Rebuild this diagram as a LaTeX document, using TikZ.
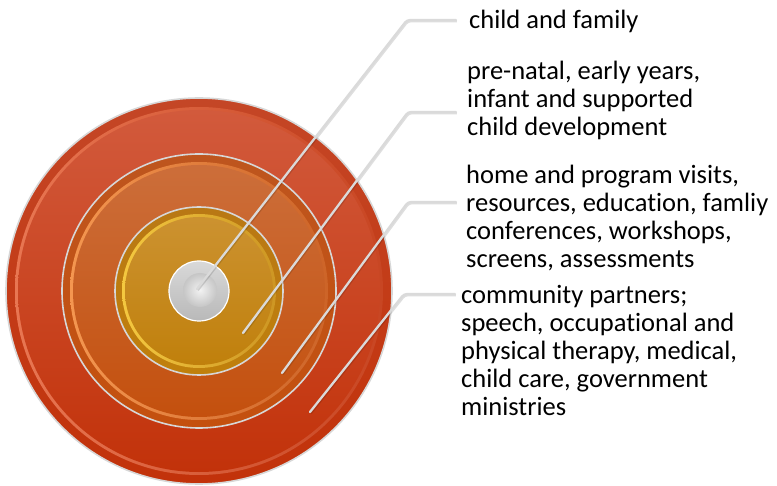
\documentclass[tikz,border=0pt]{standalone}
\usepackage{fontspec}
\setmainfont{Carlito}[Ligatures={NoCommon}]
\definecolor{outA}{RGB}{210,90,60}
\definecolor{outB}{RGB}{194,50,10}
\definecolor{outHL}{RGB}{232,118,82}
\definecolor{outHR}{RGB}{200,70,35}
\definecolor{outDk}{RGB}{196,70,38}
\definecolor{midA}{RGB}{204,110,58}
\definecolor{midB}{RGB}{196,80,14}
\definecolor{midHL}{RGB}{244,150,80}
\definecolor{midHR}{RGB}{205,100,40}
\definecolor{midDk}{RGB}{190,85,30}
\definecolor{inA}{RGB}{204,146,48}
\definecolor{inB}{RGB}{192,128,12}
\definecolor{inHL}{RGB}{244,200,64}
\definecolor{inHR}{RGB}{205,150,35}
\definecolor{inDk}{RGB}{185,120,20}
\definecolor{ringgray}{RGB}{215,215,215}
\definecolor{leadgray}{RGB}{218,218,218}
\begin{document}
\begin{tikzpicture}[x=1pt,y=-1pt,
  disk/.style={circle, inner sep=0pt, outer sep=0pt},
  ringline/.style={draw=ringgray, line width=1.6pt},
  leader/.style={line width=2.3pt, draw=leadgray, line join=round, line cap=round, rounded corners=3pt},
  leadshadow/.style={line width=2.3pt, draw=black, opacity=0.13, line join=round, rounded corners=3pt},
  lbl/.style={anchor=north west, inner sep=0pt, align=left, font=\fontsize{26.5}{28}\selectfont, text=black}]
\useasboundingbox (0,0) rectangle (777,486);
\coordinate (c) at (199,291);
% outer band
\node[disk, minimum size=386pt, top color=outDk, bottom color=outB, ringline] (outer) at (c) {};
\node[disk, minimum size=368pt, left color=outHL, right color=outHR] (outerrim) at (c) {};
\node[disk, minimum size=362pt, top color=outA, bottom color=outB] (outerin) at (c) {};
% middle band
\node[disk, minimum size=274pt, top color=midDk, bottom color=midB, ringline] (middle) at (c) {};
\node[disk, minimum size=258pt, left color=midHL, right color=midHR] (middlerim) at (c) {};
\node[disk, minimum size=252pt, top color=midA, bottom color=midB] (middlein) at (c) {};
% inner band
\node[disk, minimum size=168pt, top color=inDk, bottom color=inB, ringline] (inner) at (c) {};
\node[disk, minimum size=154pt, left color=inHL, right color=inHR] (innerrim) at (c) {};
\node[disk, minimum size=148pt, top color=inA, bottom color=inB] (innerin) at (c) {};
% silver center
\node[disk, minimum size=60pt, top color=gray!30, bottom color=gray!55, draw=white, line width=1.2pt] (core) at (c) {};
\node[disk, minimum size=34pt, inner color=white!90!gray, outer color=gray!45] (corein) at ([xshift=1pt,yshift=1pt]c) {};
% labels
\node[lbl] (t1) at (469,10) {child and family};
\node[lbl] (t2) at (467,61) {pre-natal, early years,\\infant and supported\\child development};
\node[lbl] (t3) at (466,165) {home and program visits,\\resources, education, famliy\\conferences, workshops,\\screens, assessments};
\node[lbl] (t4) at (461,285) {community partners;\\speech, occupational and\\physical therapy, medical,\\child care, government\\ministries};
% leader points
\coordinate (s1) at (197,289);
\coordinate (e1) at (407,20);
\coordinate (h1) at (456,20);
\coordinate (s2) at (243,333);
\coordinate (e2) at (408,112);
\coordinate (h2) at (456,112);
\coordinate (s3) at (282,373);
\coordinate (e3) at (408,202);
\coordinate (h3) at (456,202);
\coordinate (s4) at (310,412);
\coordinate (e4) at (404,294);
\coordinate (h4) at (455,294);
\foreach \i in {1,2,3,4}{
  \draw[leadshadow] ([shift={(0.8,1.2)}]s\i) -- ([shift={(0.8,1.2)}]e\i) -- ([shift={(0.8,1.2)}]h\i);
  \draw[leader] (s\i) -- (e\i) -- (h\i);
}
\end{tikzpicture}
\end{document}
